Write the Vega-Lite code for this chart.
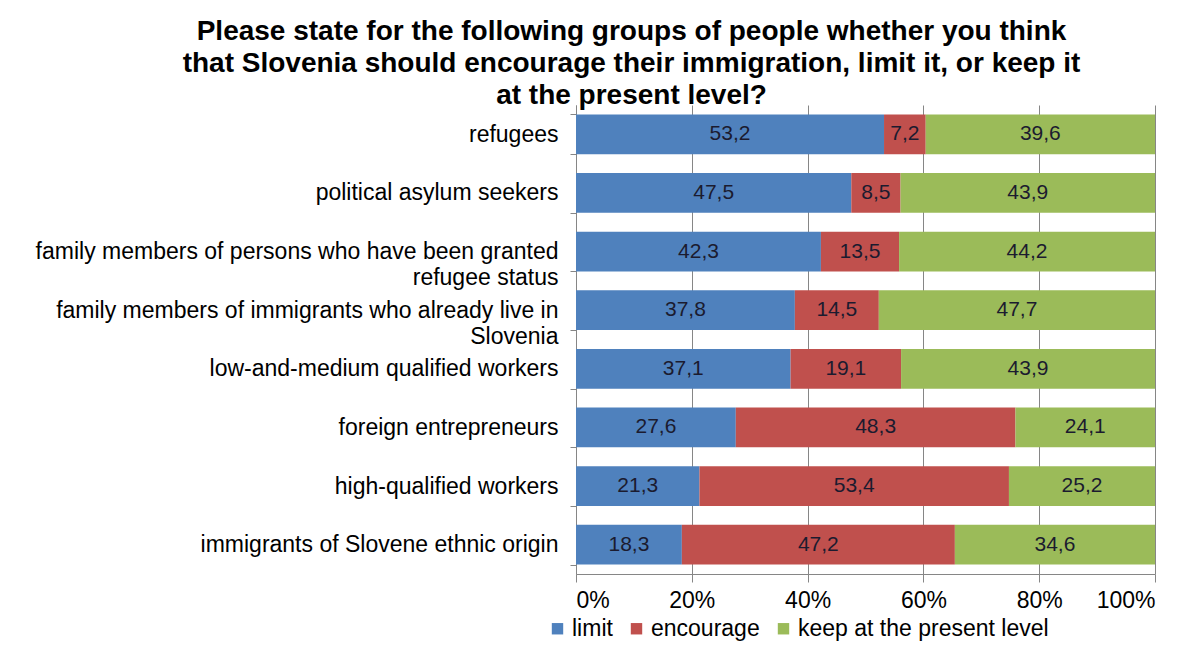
{
  "$schema": "https://vega.github.io/schema/vega-lite/v6.json",
  "width": 579,
  "height": 469,
  "autosize": {"type": "none"},
  "padding": {"left": 576, "top": 105, "right": 42, "bottom": 83},
  "background": "white",
  "title": {
    "text": ["Please state for the following groups of people whether you think", "that Slovenia should encourage their immigration, limit it, or keep it", "at the present level?"],
    "font": "Liberation Sans",
    "fontSize": 28,
    "fontWeight": "bold",
    "lineHeight": 32,
    "anchor": "middle",
    "frame": "group",
    "dx": -234,
    "offset": -16,
    "color": "#000000"
  },
  "data": {
    "values": [
      {"group": "refugees", "response": "limit", "value": 53.2},
      {"group": "refugees", "response": "encourage", "value": 7.2},
      {"group": "refugees", "response": "keep at the present level", "value": 39.6},
      {"group": "political asylum seekers", "response": "limit", "value": 47.5},
      {"group": "political asylum seekers", "response": "encourage", "value": 8.5},
      {"group": "political asylum seekers", "response": "keep at the present level", "value": 43.9},
      {"group": "family members of persons who have been granted refugee status", "response": "limit", "value": 42.3},
      {"group": "family members of persons who have been granted refugee status", "response": "encourage", "value": 13.5},
      {"group": "family members of persons who have been granted refugee status", "response": "keep at the present level", "value": 44.2},
      {"group": "family members of immigrants who already live in Slovenia", "response": "limit", "value": 37.8},
      {"group": "family members of immigrants who already live in Slovenia", "response": "encourage", "value": 14.5},
      {"group": "family members of immigrants who already live in Slovenia", "response": "keep at the present level", "value": 47.7},
      {"group": "low-and-medium qualified workers", "response": "limit", "value": 37.1},
      {"group": "low-and-medium qualified workers", "response": "encourage", "value": 19.1},
      {"group": "low-and-medium qualified workers", "response": "keep at the present level", "value": 43.9},
      {"group": "foreign entrepreneurs", "response": "limit", "value": 27.6},
      {"group": "foreign entrepreneurs", "response": "encourage", "value": 48.3},
      {"group": "foreign entrepreneurs", "response": "keep at the present level", "value": 24.1},
      {"group": "high-qualified workers", "response": "limit", "value": 21.3},
      {"group": "high-qualified workers", "response": "encourage", "value": 53.4},
      {"group": "high-qualified workers", "response": "keep at the present level", "value": 25.2},
      {"group": "immigrants of Slovene ethnic origin", "response": "limit", "value": 18.3},
      {"group": "immigrants of Slovene ethnic origin", "response": "encourage", "value": 47.2},
      {"group": "immigrants of Slovene ethnic origin", "response": "keep at the present level", "value": 34.6}
    ]
  },
  "transform": [
    {"calculate": "indexof(['limit','encourage','keep at the present level'], datum.response)", "as": "ord"},
    {"stack": "value", "groupby": ["group"], "sort": [{"field": "ord", "order": "ascending"}], "offset": "normalize", "as": ["x0", "x1"]},
    {"calculate": "(datum.x0 + datum.x1) / 2", "as": "xm"}
  ],
  "encoding": {
    "y": {
      "field": "group",
      "type": "nominal",
      "sort": null,
      "title": null,
      "scale": {"paddingInner": 0.32, "paddingOuter": 0.16},
      "axis": {
        "labelExpr": "datum.value == 'family members of persons who have been granted refugee status' ? ['family members of persons who have been granted', 'refugee status'] : datum.value == 'family members of immigrants who already live in Slovenia' ? ['family members of immigrants who already live in', 'Slovenia'] : datum.value",
        "labelFont": "Liberation Sans",
        "labelFontSize": 23,
        "labelColor": "#000000",
        "labelLimit": 600,
        "labelLineHeight": 26,
        "labelPadding": 12,
        "tickBand": "extent",
        "tickSize": 6,
        "tickColor": "#868686",
        "domainColor": "#868686",
        "grid": false
      }
    }
  },
  "layer": [
    {
      "mark": {"type": "bar"},
      "encoding": {
        "x": {
          "field": "x0",
          "type": "quantitative",
          "scale": {"domain": [0, 1], "nice": false},
          "title": null,
          "axis": {
            "format": ".0%",
            "values": [0, 0.2, 0.4, 0.6, 0.8, 1],
            "labelFont": "Liberation Sans",
            "labelFontSize": 23,
            "labelColor": "#000000",
            "labelPadding": 7,
            "tickSize": 8,
            "tickColor": "#868686",
            "domainColor": "#868686",
            "gridColor": "#868686",
            "gridWidth": 1
          }
        },
        "x2": {"field": "x1"},
        "color": {
          "field": "response",
          "type": "nominal",
          "sort": ["limit", "encourage", "keep at the present level"],
          "scale": {"domain": ["limit", "encourage", "keep at the present level"], "range": ["#4F81BD", "#C0504D", "#9BBB59"]},
          "legend": {
            "title": null,
            "orient": "none",
            "legendX": -30,
            "legendY": 512,
            "direction": "horizontal",
            "symbolType": "square",
            "symbolSize": 130,
            "symbolStrokeWidth": 0,
            "labelFont": "Liberation Sans",
            "labelFontSize": 23,
            "labelColor": "#000000",
            "labelOffset": 3,
            "columnPadding": 12,
            "labelLimit": 400
          }
        }
      }
    },
    {
      "mark": {"type": "text", "font": "Liberation Sans", "fontSize": 21, "color": "#1b1b2f", "baseline": "middle", "align": "center"},
      "encoding": {
        "x": {"field": "xm", "type": "quantitative"},
        "text": {"field": "value", "type": "quantitative", "format": ".1f", "formatType": "number"}
      }
    }
  ],
  "config": {
    "view": {"stroke": null},
    "locale": {"number": {"decimal": ",", "thousands": ".", "grouping": [3], "currency": ["", " €"]}}
  }
}
